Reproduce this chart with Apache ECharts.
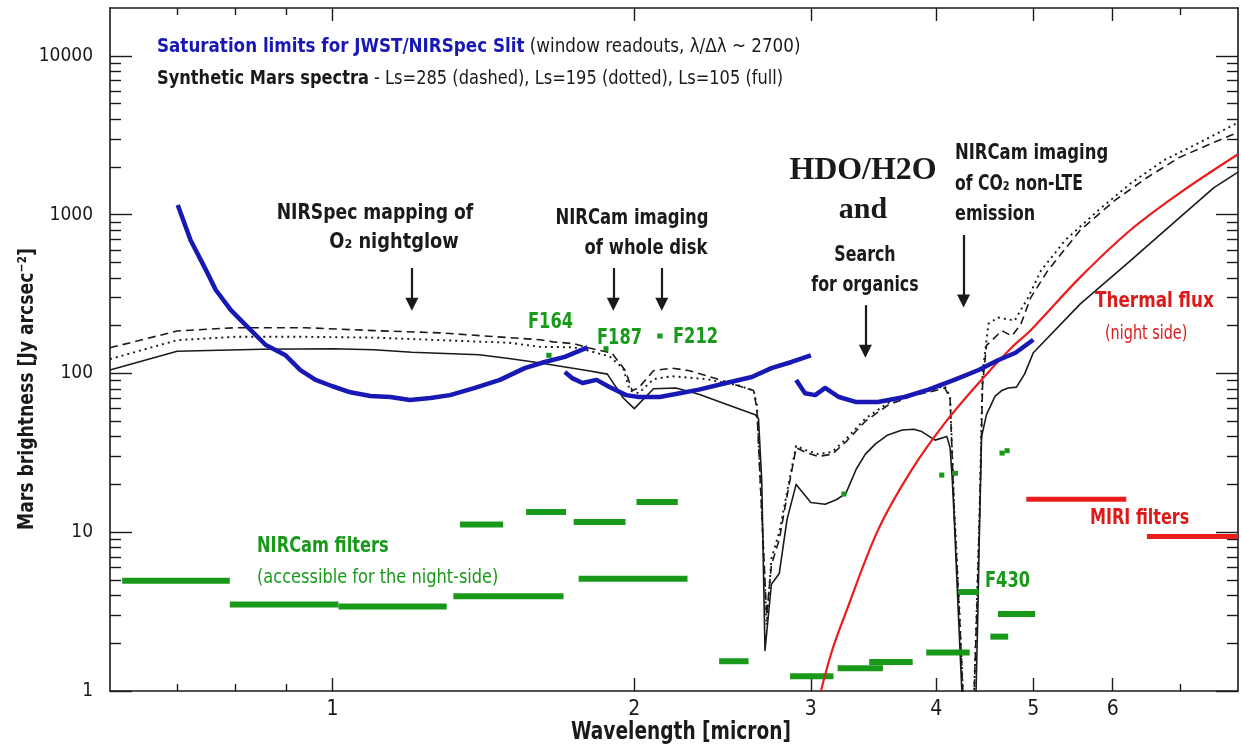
<!DOCTYPE html>
<html><head><meta charset="utf-8">
<script src="https://cdn.jsdelivr.net/npm/echarts@6.0.0/dist/echarts.min.js"></script>
<style>html,body{margin:0;padding:0;background:#fff}#c{width:1241px;height:749px}</style>
</head><body><div id="c"></div>
<script>
// ---------- DATA ----------
const xMajorTicks = [1, 2, 3, 4, 5, 6];
const xMinorTicks = [0.7, 0.8, 0.9, 7];
const yMajorTicks = [1, 10, 100, 1000, 10000];
const yMinorTicks = [2,3,4,5,6,7,8,9,20,30,40,50,60,70,80,90,200,300,400,500,600,700,800,900,2000,3000,4000,5000,6000,7000,8000,9000];

// Synthetic Mars spectra [wavelength micron, Jy/arcsec^2]
const spectrumLs105 = [[0.6,105],[0.7,138],[0.85,142],[1.0,143],[1.1,141],[1.2,136],[1.4,131],[1.5,124],[1.6,117],[1.7,110],[1.8,104],[1.88,99],[1.95,70],[2.0,60],[2.09,80],[2.2,81],[2.32,74],[2.47,64],[2.64,55],[2.66,52],[2.68,21],[2.70,1.8],[2.74,4.7],[2.79,5.5],[2.84,12],[2.9,20],[3.0,15.4],[3.1,15],[3.18,16],[3.25,17.5],[3.33,25],[3.4,31],[3.48,36],[3.58,41],[3.7,44],[3.8,44.5],[3.87,43],[3.99,38],[4.1,40],[4.13,34],[4.15,22],[4.17,12],[4.21,3],[4.25,0.8],[4.38,0.8],[4.40,2.7],[4.42,11.7],[4.44,40],[4.49,55],[4.58,72],[4.65,78],[4.72,81],[4.81,82],[4.9,99],[5.0,135],[5.57,274],[6.25,513],[7.0,960],[7.57,1480],[8.0,1850]];
const spectrumLs285 = [[0.6,145],[0.7,185],[0.8,194],[0.94,194],[1.1,186],[1.28,180],[1.5,168],[1.61,163],[1.66,158],[1.74,154],[1.8,145],[1.9,134],[1.96,104],[1.99,78],[2.02,81],[2.09,104],[2.18,108],[2.27,104],[2.45,90],[2.63,78],[2.65,60],[2.69,8],[2.71,3],[2.74,6.2],[2.79,9],[2.85,19],[2.9,34],[2.96,32],[3.05,30],[3.15,31],[3.25,37],[3.4,50],[3.58,63],[3.78,72],[3.96,77],[4.08,81],[4.13,70],[4.17,13],[4.22,3],[4.26,0.8],[4.36,0.8],[4.39,3],[4.42,13],[4.45,85],[4.49,150],[4.54,160],[4.65,186],[4.76,172],[4.86,205],[4.97,300],[5.17,445],[5.57,800],[6.03,1230],[6.5,1720],[7.0,2300],[7.57,2850],[8.0,3300]];
const spectrumLs195 = [[0.6,123],[0.7,162],[0.8,170],[0.94,170],[1.1,168],[1.28,162],[1.5,156],[1.61,147],[1.74,146],[1.8,139],[1.89,128],[1.95,107],[1.98,78],[2.02,75],[2.09,92],[2.18,96],[2.36,92],[2.54,84],[2.63,78],[2.65,64],[2.69,8],[2.71,2.6],[2.74,6.8],[2.79,10],[2.85,20],[2.9,35],[2.96,33],[3.05,31],[3.15,32],[3.25,38.5],[3.4,52],[3.58,65],[3.78,74],[3.96,79],[4.08,83],[4.13,72],[4.17,14],[4.22,3.2],[4.26,0.8],[4.36,0.8],[4.39,3.2],[4.42,14],[4.45,100],[4.51,205],[4.61,225],[4.79,215],[4.94,300],[5.09,445],[5.38,690],[5.8,1060],[6.25,1570],[6.75,2200],[7.29,2800],[8.0,3800]];

// Saturation limits JWST/NIRSpec slit (three readout windows)
const saturationA = [[0.701,1150],[0.722,690],[0.748,447],[0.765,335],[0.792,250],[0.819,202],[0.858,151],[0.898,130],[0.929,105],[0.962,91],[1.0,83],[1.042,76],[1.091,72],[1.142,71],[1.195,68],[1.252,70],[1.31,73],[1.387,81],[1.469,91],[1.555,108],[1.628,118],[1.705,127],[1.797,146]];
const saturationB = [[1.705,102],[1.736,93],[1.776,87],[1.834,91],[1.889,82],[1.963,73],[2.02,71],[2.12,71],[2.22,75],[2.32,79],[2.47,87],[2.62,95],[2.74,108],[2.87,118],[3.0,130]];
const saturationC = [[2.9,91],[2.96,75],[3.03,73],[3.1,81],[3.2,71],[3.33,66],[3.5,66],[3.72,71],[3.93,79],[4.17,91],[4.41,105],[4.61,121],[4.8,135],[5.0,163]];

// Thermal flux (night side)
const thermalFlux = [[3.07,1],[3.15,1.8],[3.25,3.1],[3.5,10.3],[3.78,24.6],[4.08,48.6],[4.41,87],[4.76,146],[4.97,187],[5.57,404],[6.25,800],[7.0,1370],[8.0,2400]];

// Filters: [start, end, level]
const nircamWide = [[0.617,0.79,4.95],[0.79,1.014,3.5],[1.014,1.30,3.4],[1.34,1.48,11.2],[1.56,1.71,13.4],[1.74,1.96,11.6],[2.01,2.21,15.5],[1.32,1.70,3.95],[1.76,2.26,5.1],[2.43,2.60,1.54],[2.86,3.16,1.24],[3.19,3.54,1.39],[3.43,3.79,1.52],[3.91,4.32,1.75],[4.21,4.41,4.2],[4.61,5.02,3.05],[4.53,4.72,2.2]];
const nircamNarrow = [[1.634,1.654,130],[1.863,1.885,143],[2.108,2.134,172],[3.218,3.256,17.4],[4.028,4.076,22.9],[4.155,4.205,23.5],[4.626,4.682,31.5],[4.68,4.736,32.6]];
const miriFilters = [[4.92,6.19,16.1],[6.49,8.0,9.4]];

// Annotation arrows: [wavelength, from, to]
const arrows = [[1.2,461,273],[1.906,461,273],[2.13,461,273],[3.40,269,138],[4.26,744,286]];

// ---------- CHART ----------
const FONT = "'Liberation Sans Narrow','DejaVu Sans Condensed','Arial Narrow',sans-serif";
const SERIF = "'Liberation Serif','DejaVu Serif',serif";
const BLUE = '#1818b4', GREEN = '#18991a', RED = '#ec1c1c', TRED = '#dd1a1a', INK = '#1a1a1a';
const chart = echarts.init(document.getElementById('c'));

function xAx(pos, ticks, len, showLine, showLabel) {
  return {type:'log', logBase:10, min:0.6, max:8, position:pos, gridIndex:0,
    axisLine:{show:showLine, onZero:false, lineStyle:{color:INK, width:1.6}},
    axisTick:{show:true, inside:true, length:len, customValues:ticks, lineStyle:{color:INK, width:1.4}},
    axisLabel:{show:showLabel, customValues:ticks, margin:8, fontFamily:FONT, fontSize:21, color:INK,
      formatter:v=>String(+(+v).toFixed(3))},
    splitLine:{show:false}, minorTick:{show:false}, minorSplitLine:{show:false}};
}
function yAx(pos, ticks, len, showLine, showLabel) {
  return {type:'log', logBase:10, min:1, max:20000, position:pos, gridIndex:0,
    axisLine:{show:showLine, onZero:false, lineStyle:{color:INK, width:1.6}},
    axisTick:{show:true, inside:true, length:len, customValues:ticks, lineStyle:{color:INK, width:1.4}},
    axisLabel:{show:showLabel, customValues:ticks, margin:17, fontFamily:FONT, fontSize:19, color:INK,
      formatter:v=>String(Math.round(v))},
    splitLine:{show:false}, minorTick:{show:false}, minorSplitLine:{show:false}};
}
function barSeries(name, data, color, width, z) {
  return {name, type:'custom', xAxisIndex:0, yAxisIndex:0, clip:true, z, data, encode:{x:[0,1], y:2},
    renderItem(params, api) {
      const p1 = api.coord([api.value(0), api.value(2)]);
      const p2 = api.coord([api.value(1), api.value(2)]);
      return {type:'line', shape:{x1:p1[0], y1:p1[1], x2:p2[0], y2:p2[1]},
        style:{stroke:color, lineWidth:width, lineCap:'butt'}};
    }};
}
function lineSeries(name, data, color, width, type, z, smooth) {
  return {name, type:'line', data, xAxisIndex:0, yAxisIndex:0, symbol:'none', showSymbol:false,
    clip:true, z, smooth:smooth || false, lineStyle:{color, width, type, cap:'butt', join:'round'}};
}
function T(x, y, text, size, opts) {
  opts = opts || {};
  return {type:'text', x, y, z:100, silent:true, rotation:opts.rot || 0, scaleX:opts.sx || 1,
    style:Object.assign({text, fill:opts.color || INK,
      font:(opts.bold ? 'bold ' : '') + size + 'px ' + (opts.family || FONT),
      textAlign:opts.align || 'left', textVerticalAlign:'middle'}, opts.rich ? {rich:opts.rich} : {})};
}
const rich19 = {
  b:{fontWeight:'bold', fontSize:19, fontFamily:FONT, fill:INK, color:INK},
  bb:{fontWeight:'bold', fontSize:19, fontFamily:FONT, fill:BLUE, color:BLUE},
  n:{fontWeight:'normal', fontSize:19, fontFamily:FONT, fill:INK, color:INK}
};

const arrowLines = arrows.map(a => [{coord:[a[0], a[1]]}, {coord:[a[0], a[2]]}]);

const solid = lineSeries('Ls=105', spectrumLs105, INK, 1.6, 'solid', 3);
solid.markLine = {silent:true, symbol:['none','triangle'], symbolSize:13, animation:false,
  label:{show:false}, lineStyle:{color:INK, width:2.2, type:'solid'}, data:arrowLines};

chart.setOption({
  animation:false,
  backgroundColor:'#fff',
  grid:{left:110, right:3, top:8, bottom:58, containLabel:false, outerBoundsMode:'none'},
  xAxis:[xAx('bottom', xMajorTicks, 13, true, true), xAx('bottom', xMinorTicks, 7, false, false),
         xAx('top', xMajorTicks, 13, true, false), xAx('top', xMinorTicks, 7, false, false)],
  yAxis:[yAx('left', yMajorTicks, 22, true, true), yAx('left', yMinorTicks, 11, false, false),
         yAx('right', yMajorTicks, 22, true, false), yAx('right', yMinorTicks, 11, false, false)],
  series:[
    lineSeries('Ls=285', spectrumLs285, INK, 1.6, [8,5], 3),
    lineSeries('Ls=195', spectrumLs195, INK, 1.9, [2,4], 3),
    solid,
    barSeries('NIRCam filters', nircamWide, GREEN, 6, 5),
    barSeries('NIRCam narrow', nircamNarrow, GREEN, 5, 5),
    barSeries('MIRI filters', miriFilters, RED, 5, 5),
    lineSeries('Thermal flux', thermalFlux, RED, 2.2, 'solid', 6, 0.35),
    lineSeries('Saturation A', saturationA, BLUE, 4.5, 'solid', 7),
    lineSeries('Saturation B', saturationB, BLUE, 4.5, 'solid', 7),
    lineSeries('Saturation C', saturationC, BLUE, 4.5, 'solid', 7)
  ],
  graphic:[
    T(157, 47, '{bb|Saturation limits for JWST/NIRSpec Slit}{n| (window readouts, λ/Δλ ~ 2700)}', 19, {rich:rich19, sx:0.98}),
    T(157, 79, '{b|Synthetic Mars spectra}{n| - Ls=285 (dashed), Ls=195 (dotted), Ls=105 (full)}', 19, {rich:rich19, sx:0.95}),
    T(375, 213, 'NIRSpec mapping of', 22, {bold:true, align:'center', sx:0.87}),
    T(394, 242, 'O₂ nightglow', 22, {bold:true, align:'center', sx:0.9}),
    T(632, 218, 'NIRCam imaging', 22, {bold:true, align:'center', sx:0.83}),
    T(646, 248, 'of whole disk', 22, {bold:true, align:'center', sx:0.83}),
    T(528, 322, 'F164', 22, {bold:true, color:GREEN, sx:0.82}),
    T(597, 338, 'F187', 22, {bold:true, color:GREEN, sx:0.82}),
    T(673, 337, 'F212', 22, {bold:true, color:GREEN, sx:0.82}),
    T(863, 171, 'HDO/H2O', 31, {bold:true, align:'center', family:SERIF, sx:1.03}),
    T(863, 210, 'and', 30, {bold:true, align:'center', family:SERIF}),
    T(865, 255, 'Search', 22, {bold:true, align:'center', sx:0.8}),
    T(865, 285, 'for organics', 22, {bold:true, align:'center', sx:0.8}),
    T(955, 153, 'NIRCam imaging', 22, {bold:true, sx:0.83}),
    T(955, 184, 'of CO₂ non-LTE', 22, {bold:true, sx:0.79}),
    T(955, 214, 'emission', 22, {bold:true, sx:0.81}),
    T(1095, 302, 'Thermal flux', 21, {bold:true, color:TRED, sx:0.89}),
    T(1105, 334, '(night side)', 20, {color:TRED, sx:0.8}),
    T(257, 547, 'NIRCam filters', 21, {bold:true, color:GREEN, sx:0.86}),
    T(257, 578, '(accessible for the night-side)', 20, {color:GREEN, sx:0.9}),
    T(985, 581, 'F430', 22, {bold:true, color:GREEN, sx:0.82}),
    T(1090, 519, 'MIRI filters', 21, {bold:true, color:TRED, sx:0.85}),
    T(681, 733, 'Wavelength [micron]', 24, {bold:true, align:'center', sx:0.86}),
    T(27, 389, 'Mars brightness [Jy arcsec⁻²]', 22, {bold:true, align:'center', rot:Math.PI/2, sx:0.87})
  ]
});
</script></body></html>
